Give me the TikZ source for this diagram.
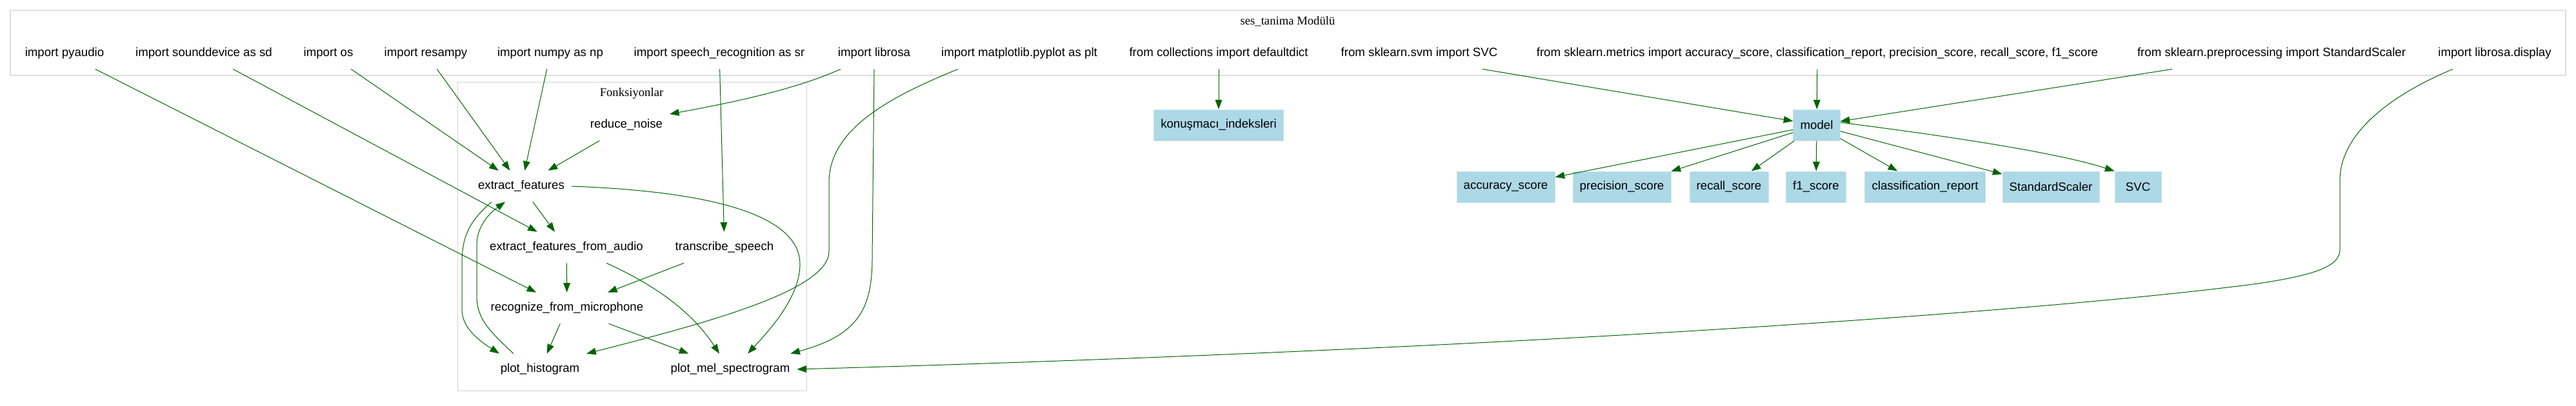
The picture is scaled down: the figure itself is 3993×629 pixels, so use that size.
\documentclass[tikz,border=0pt]{standalone}
\usepackage{fontspec}
\setmainfont{Liberation Serif}
\newfontfamily\arialf{Liberation Sans}
\usetikzlibrary{arrows.meta,calc}
\definecolor{edgegreen}{HTML}{006400}
\definecolor{boxblue}{HTML}{ADD8E6}
\definecolor{clustergray}{HTML}{DEDEDE}
\definecolor{innergray}{HTML}{D3D3D3}
\begin{document}
\begin{tikzpicture}[x=0.75pt,y=-0.75pt,
  lbl/.style={font=\arialf\fontsize{14}{16}\selectfont, inner xsep=8pt, inner ysep=0pt, minimum height=36pt, minimum width=54pt},
  bbox/.style={lbl, fill=boxblue, draw=boxblue!70!white, line width=0.75pt},
  edge/.style={draw=edgegreen, line width=0.75pt, -{Triangle[length=11pt,width=8pt]}},
  clusterlbl/.style={font=\fontsize{14}{16}\selectfont, inner sep=0pt}
]
\useasboundingbox (0,0) rectangle (3993,629);
% clusters
\draw[clustergray, line width=1.5pt] (16,16) rectangle (3977,117);
\node[clusterlbl] (title) at (1996,33) {ses\_tanima Modülü};
\draw[innergray, line width=0.75pt] (709,127) rectangle (1250,606);
\node[clusterlbl] (ftitle) at (979,145) {Fonksiyonlar};
% import nodes
\node[lbl] (pyaudio) at (100,83) {import pyaudio};
\node[lbl] (sounddevice) at (316,83) {import sounddevice as sd};
\node[lbl] (os) at (509,83) {import os};
\node[lbl] (resampy) at (660,83) {import resampy};
\node[lbl] (numpy) at (853,83) {import numpy as np};
\node[lbl] (speechrec) at (1115,83) {import speech\_recognition as sr};
\node[lbl] (librosa) at (1355,83) {import librosa};
\node[lbl] (matplotlib) at (1580,83) {import matplotlib.pyplot as plt};
\node[lbl] (collections) at (1889,83) {from collections import defaultdict};
\node[lbl] (svm) at (2200,83) {from sklearn.svm import SVC};
\node[lbl] (metrics) at (2817,83) {from sklearn.metrics import accuracy\_score, classification\_report, precision\_score, recall\_score, f1\_score};
\node[lbl] (preproc) at (3521,83) {from sklearn.preprocessing import StandardScaler};
\node[lbl] (ldisplay) at (3867,83) {import librosa.display};
% function nodes
\node[lbl] (rn) at (971,194) {reduce\_noise};
\node[lbl] (ef) at (808,289) {extract\_features};
\node[lbl] (efa) at (878,384) {extract\_features\_from\_audio};
\node[lbl] (ts) at (1123,384) {transcribe\_speech};
\node[lbl] (rfm) at (879,478) {recognize\_from\_microphone};
\node[lbl] (ph) at (837,573) {plot\_histogram};
\node[lbl] (pm) at (1132,573) {plot\_mel\_spectrogram};
% boxes
\node[bbox] (konus) at (1889,194) {konuşmacı\_indeksleri};
\node[bbox] (model) at (2816,194) {model};
\node[bbox] (acc) at (2334,290) {accuracy\_score};
\node[bbox] (prec) at (2514,290) {precision\_score};
\node[bbox] (rec) at (2680,290) {recall\_score};
\node[bbox] (f1) at (2815,290) {f1\_score};
\node[bbox] (cr) at (2984,290) {classification\_report};
\node[bbox] (ss) at (3179,290) {StandardScaler};
\node[bbox] (svc) at (3314,290) {SVC};
% edges from imports
\draw[edge] (pyaudio) -- (rfm);
\draw[edge] (sounddevice) -- (efa);
\draw[edge] (os) -- (ef);
\draw[edge] (resampy) -- (ef);
\draw[edge] (numpy) -- (ef);
\draw[edge] (speechrec) -- (ts);
\draw[edge] ($(librosa.south)+(-52,0)$) .. controls (1230,140) and (1130,160) .. ($(rn.east)+(0,-17)$);
\draw[edge] (librosa.south) -- (1352,400) .. controls (1352,480) and (1330,520) .. ($(pm.north east)+(-10,0)$);
\draw[edge] ($(matplotlib.south)+(-95,0)$) .. controls (1380,150) and (1285,200) .. (1285,283) -- (1285,390) .. controls (1285,450) and (1100,500) .. (ph.north east);
\draw[edge] ($(ldisplay.south)+(-65,0)$) .. controls (3700,150) and (3627,210) .. (3627,280) -- (3627,388) .. controls (3627,415) and (3580,428) .. (3500,440) .. controls (3200,480) and (2400,540) .. (pm.east);
\draw[edge] (collections) -- (konus);
\draw[edge] ($(svm.south)+(98,0)$) -- (model);
\draw[edge] (metrics) -- (model);
\draw[edge] (preproc) -- (model);
% model children
\draw[edge] (model) -- (acc);
\draw[edge] (model) -- (prec);
\draw[edge] (model) -- (rec);
\draw[edge] (model) -- (f1);
\draw[edge] (model) -- (cr);
\draw[edge] (model) -- (ss);
\draw[edge] ($(model.east)+(0,-4)$) .. controls (3050,215) and (3200,240) .. (svc.north west);
% function edges
\draw[edge] (rn) -- (ef);
\draw[edge] (ef) -- (efa);
\draw[edge] ($(ef.south)+(-46,0)$) .. controls (725,345) and (716,370) .. (716,410) -- (716,480) .. controls (716,510) and (745,530) .. ($(ph.north)+(-63,0)$);
\draw[edge] ($(ph.north)+(-41,0)$) .. controls (760,515) and (739,495) .. (739,460) -- (739,380) .. controls (739,350) and (760,330) .. ($(ef.south)+(-25,0)$);
\draw[edge] (ef.east) .. controls (1050,295) and (1240,320) .. (1240,410) .. controls (1240,460) and (1195,510) .. ($(pm.north)+(27,0)$);
\draw[edge] ($(efa.south)+(62,0)$) .. controls (1010,440) and (1070,480) .. ($(pm.north)+(-17,0)$);
\draw[edge] (efa) -- (rfm);
\draw[edge] (ts) -- (rfm);
\draw[edge] (rfm) -- (ph);
\draw[edge] (rfm) -- (pm);
\end{tikzpicture}
\end{document}
